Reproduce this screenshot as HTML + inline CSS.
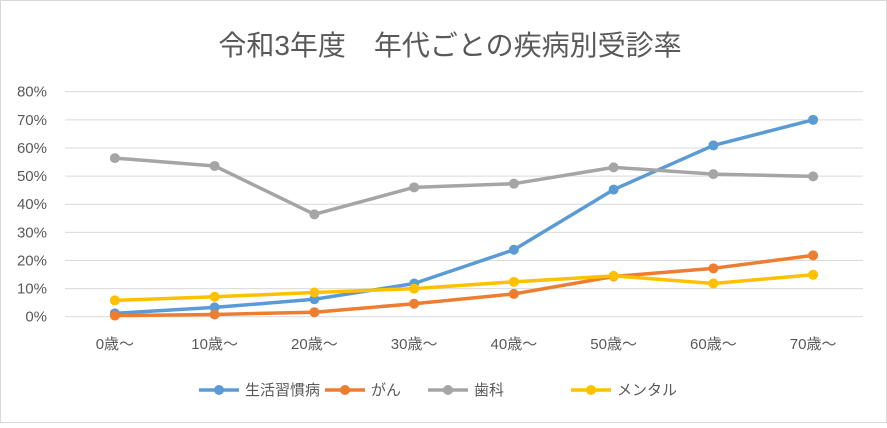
<!DOCTYPE html>
<html><head><meta charset="utf-8"><style>
body{margin:0;background:#fff}
svg text{font-family:"Liberation Sans","Noto Sans CJK JP",sans-serif;fill:#595959}
</style></head><body>
<svg width="887" height="423" id="c">
<rect x="0.5" y="0.5" width="886" height="422" fill="#fff" stroke="#d9d9d9"/>
<text x="450" y="55" text-anchor="middle" font-size="28">令和3年度　年代ごとの疾病別受診率</text>
<g id="grid"></g><g id="lines"></g><g id="legend"></g>
</svg>
<script>
const categories=["0歳〜","10歳〜","20歳〜","30歳〜","40歳〜","50歳〜","60歳〜","70歳〜"];
const yTicks=[0,10,20,30,40,50,60,70,80];
const seriesNames=["生活習慣病","がん","歯科","メンタル"];
const lifestyle=[1.2,3.3,6.2,11.8,23.8,45.2,60.9,70];
const cancer=[0.4,0.8,1.6,4.6,8.1,14.3,17.2,21.8];
const dental=[56.4,53.6,36.4,46,47.3,53.1,50.7,49.9];
const mental=[5.8,7.1,8.6,10,12.4,14.5,11.8,14.9];
const colors=["#5b9bd5","#ed7d31","#a5a5a5","#ffc000"];
const NS="http://www.w3.org/2000/svg";
const x0=65,x1=863,y0=316.7,y80=91.7;
const xs=i=>x0+(x1-x0)/categories.length*(i+0.5);
const ys=v=>y0-(y0-y80)*v/80;
const g=document.getElementById('grid'),L=document.getElementById('lines'),lg=document.getElementById('legend');
function mk(t,a,p){const e=document.createElementNS(NS,t);for(const k in a)e.setAttribute(k,a[k]);p.appendChild(e);return e;}
yTicks.forEach(t=>{
 const l=mk('line',{x1:x0,x2:x1,y1:ys(t),y2:ys(t),stroke:'#d9d9d9','stroke-width':1},g);
 
 
 const tx=mk('text',{x:47,y:ys(t)+5,'text-anchor':'end','font-size':15},g);
 tx.textContent=t+'%';
 
 
});
categories.forEach((c,i)=>{
 const tx=mk('text',{x:xs(i),y:349,'text-anchor':'middle','font-size':15},g);
 tx.textContent=c;
 
 
});
[lifestyle,cancer,dental,mental].forEach((s,k)=>{
 const p=mk('polyline',{points:s.map((v,i)=>xs(i)+','+ys(v)).join(' '),fill:'none',stroke:colors[k],'stroke-width':3.5,'stroke-linejoin':'round'},L);
 
 
 s.forEach((v,i)=>{
  const c=mk('circle',{cx:xs(i),cy:ys(v),r:5,fill:colors[k]},L);
  
  
 });
});
const lx=[199,325,428,571];
seriesNames.forEach((n,k)=>{
 const x=lx[k];
 const l=mk('line',{x1:x,x2:x+40,y1:390,y2:390,stroke:colors[k],'stroke-width':3.5},lg);
 
 
 const c=mk('circle',{cx:x+20,cy:390,r:5,fill:colors[k]},lg);
 
 
 const t=mk('text',{x:x+46,y:395,'font-size':15},lg);
 t.textContent=n;
 
 
});
</script>
</body></html>
